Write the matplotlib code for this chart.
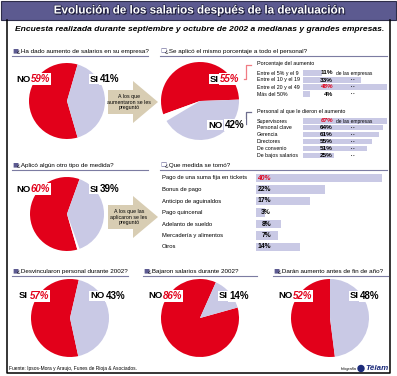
import matplotlib
matplotlib.use('Agg')
import matplotlib.pyplot as plt
from matplotlib import patheffects
from matplotlib.patches import Polygon, Rectangle, Circle

W, H = 397, 376

RED = '#e2001a'
LAV = '#c9c9e5'
TAN = '#d8cdb3'
PURPLE = '#5c5a90'

# datos de las tortas (en el orden en que se dibujan)
q1_vals = [59, 41]        # NO, SI
q2_vals = [55, 3, 42]     # SI, sin respuesta, NO
q3_vals = [60, 1, 39]     # NO, sin respuesta, SI
q4_vals = [57, 43]        # SI, NO
q5_vals = [86, 14]        # NO, SI
q6_vals = [52, 48]        # NO, SI

rango_labels = ['Entre el 5% y el 9', 'Entre el 10 y el 19', 'Entre el 20 y el 49', 'Más del 50%']
rango_vals = [11, 33, 48, 4]

personal_labels = ['Supervisores', 'Personal clave', 'Gerencia', 'Directores',
                   'De convenio', 'De bajos salarios']
personal_vals = [67, 64, 61, 55, 51, 25]

medida_labels = ['Pago de una suma fija en tickets', 'Bonus de pago', 'Anticipo de aguinaldos',
                 'Pago quincenal', 'Adelanto de sueldo', 'Mercadería y alimentos', 'Otros']
medida_vals = [40, 22, 17, 3, 8, 7, 14]

plt.rcParams['font.family'] = ['Liberation Sans', 'DejaVu Sans']

fig = plt.figure(figsize=(W / 100, H / 100), dpi=100)


def px_axes(x, y, w, h):
    return fig.add_axes([x / W, 1 - (y + h) / H, w / W, h / H])


def pie(cx, cy, r, vals, colors, start):
    ax = px_axes(cx - r, cy - r, 2 * r, 2 * r)
    ax.pie(vals, colors=colors, startangle=start, radius=1,
           wedgeprops=dict(linewidth=0))
    ax.set_xlim(-1, 1)
    ax.set_ylim(-1, 1)
    ax.axis('off')


def bars(x, y0, step, w, vmax, vals, height):
    n = len(vals)
    ax = px_axes(x, y0 - step / 2, w, step * n)
    ax.barh(range(n), vals, height=height, color=LAV, linewidth=0)
    ax.set_xlim(0, vmax)
    ax.set_ylim(n - 0.5, -0.5)
    ax.axis('off')


# tortas
pie(67, 101, 38, q1_vals, [RED, LAV], 73.8)
pie(200, 101, 39, q2_vals, [RED, 'white', LAV], 2)
pie(67, 214, 37, q3_vals, [RED, 'white', LAV], 70.2)
pie(70, 318, 39, q4_vals, [RED, LAV], 77)
pie(200, 318, 39, q5_vals, [RED, LAV], 66)
pie(330, 318, 39, q6_vals, [RED, LAV], 90)

# barras
bars(303, 73, 7, 84, 48, rango_vals, 0.72)
bars(303, 121, 6.95, 84, 67, personal_vals, 0.72)
bars(256, 178, 11.5, 126, 40, medida_vals, 0.72)

# capa de textos y adornos
ov = fig.add_axes([0, 0, 1, 1])
ov.set_xlim(0, W)
ov.set_ylim(H, 0)
ov.axis('off')

ov.add_patch(Rectangle((1, 0.5), 395, 19.5, facecolor=PURPLE, edgecolor='#2e2d4a', lw=0.8))
ov.text(199.5, 10.5, 'Evolución de los salarios después de la devaluación', color='white',
        fontsize=8.4, fontweight='bold', ha='center', va='center',
        path_effects=[patheffects.withSimplePatchShadow(offset=(0.8, -0.8), shadow_rgbFace='#15152a', alpha=1),
                      patheffects.withStroke(linewidth=1.0, foreground='#26264a')])
ov.text(199.5, 29.5, 'Encuesta realizada durante septiembre y octubre de 2002 a medianas y grandes empresas.',
        fontsize=6.1, fontweight='bold', style='italic', ha='center', va='center')

# marco
ov.plot([7, 7, 390, 390], [20, 373, 373, 20], color='black', lw=1.1)


def header(x, y, text, filled, x_end):
    ov.text(x, y, '■' if filled else '□', family='DejaVu Sans', fontsize=4.6, color=PURPLE,
            ha='left', va='center')
    ov.text(x + 5, y, text, fontsize=4.5, ha='left', va='center')
    ov.plot([x, x_end], [y + 5, y + 5], color='#7c7ca2', lw=0.8)


header(12, 51, '¿Ha dado aumento de salarios en su empresa?', True, 148)
header(160, 51, '¿Se aplicó el mismo porcentaje a todo el personal?', False, 387)
header(12, 165, '¿Aplicó algún otro tipo de medida?', True, 148)
header(160, 165, '¿Que medida se tomó?', False, 387)
header(12, 271, '¿Desvincularon personal durante 2002?', True, 128)
header(143, 271, '¿Bajaron salarios durante 2002?', True, 257)
header(273, 271, '¿Darán aumento antes de fin de año?', True, 388)


def pie_label(x1, word, x2, pct, y, red):
    box = dict(facecolor='white', edgecolor='none', pad=0.6)
    ov.text(x1, y, word, fontsize=6.8, fontweight='bold', ha='left', va='center', bbox=box)
    ov.text(x2, y, pct, fontsize=7, fontweight='bold', ha='left', va='center', bbox=box,
            color=RED if red else 'black', style='italic' if red else 'normal')


pie_label(16, 'NO', 31, '59%', 79, True)
pie_label(90, 'SI', 99.5, '41%', 79, False)
pie_label(210, 'SI', 220, '55%', 79, True)
pie_label(208, 'NO', 225, '42%', 125, False)
pie_label(16, 'NO', 31, '60%', 189, True)
pie_label(90, 'SI', 99.5, '39%', 189, False)
pie_label(19, 'SI', 30, '57%', 296, True)
pie_label(90, 'NO', 106, '43%', 296, False)
pie_label(148, 'NO', 163, '86%', 296, True)
pie_label(219, 'SI', 229, '14%', 296, False)
pie_label(278, 'NO', 293, '52%', 296, True)
pie_label(350, 'SI', 360, '48%', 296, False)

# flechas
for y_mid, txt in [(102, 'A los que\naumentaron se les\npreguntó'),
                   (217, 'A los que las\naplicaron se les\npreguntó')]:
    ov.add_patch(Polygon([(108, y_mid - 12), (133, y_mid - 12), (133, y_mid - 21), (158, y_mid),
                          (133, y_mid + 21), (133, y_mid + 12), (108, y_mid + 12)],
                         closed=True, facecolor=TAN, edgecolor='none'))
    ov.text(129, y_mid, txt, fontsize=3.8, ha='center', va='center', linespacing=1.15)

# conectores de la torta 2
ov.plot([244, 245.5, 245.5, 251], [79, 79, 65, 65], color='#f07c84', lw=0.9)
ov.plot([246, 245.5, 245.5, 251], [124, 124, 112, 112], color='#6e6e8e', lw=0.9)

# tabla porcentaje del aumento
ov.text(257, 64, 'Porcentaje del aumento', fontsize=3.9, ha='left', va='center')
for i, (lab, v) in enumerate(zip(rango_labels, rango_vals)):
    y = 73 + 7 * i
    ov.text(257, y, lab, fontsize=3.8, ha='left', va='center')
    red = v == max(rango_vals)
    ov.text(333, y, f'{v}%', fontsize=4.6, fontweight='bold', ha='right', va='center',
            color=RED if red else 'black', style='italic' if red else 'normal')
    ov.text(336 if i == 0 else 351, y, 'de las empresas' if i == 0 else '• •',
            fontsize=3.5 if i == 0 else 2.6, ha='left', va='center')

ov.text(257, 112, 'Personal al que le dieron el aumento', fontsize=3.9, ha='left', va='center')
for i, (lab, v) in enumerate(zip(personal_labels, personal_vals)):
    y = 121 + 6.95 * i
    ov.text(257, y, lab, fontsize=3.8, ha='left', va='center')
    red = v == max(personal_vals)
    ov.text(333, y, f'{v}%', fontsize=4.6, fontweight='bold', ha='right', va='center',
            color=RED if red else 'black', style='italic' if red else 'normal')
    ov.text(336 if i == 0 else 351, y, 'de las empresas' if i == 0 else '• •',
            fontsize=3.5 if i == 0 else 2.6, ha='left', va='center')

# medidas tomadas
for i, (lab, v) in enumerate(zip(medida_labels, medida_vals)):
    y = 178 + 11.5 * i
    ov.text(162, y, lab, fontsize=4.2, ha='left', va='center')
    red = v == max(medida_vals)
    ov.text(271, y, f'{v}%', fontsize=4.9, fontweight='bold', ha='right', va='center',
            color=RED if red else 'black', style='italic' if red else 'normal')

# pie de página
ov.text(9, 368.5, 'Fuente: Ipsos-Mora y Araujo, Funes de Rioja & Asociados.', fontsize=3.5,
        ha='left', va='center')
ov.text(341, 369, 'Infografía', fontsize=2.7, style='italic', ha='left', va='center')
ov.add_patch(Circle((361, 368.5), 3, color='#1b2a7a'))
ov.text(365, 368.5, 'Télam', fontsize=5.8, fontweight='bold', style='italic', color='#1b2a7a',
        ha='left', va='center')

fig.savefig('out.png', dpi=100)
